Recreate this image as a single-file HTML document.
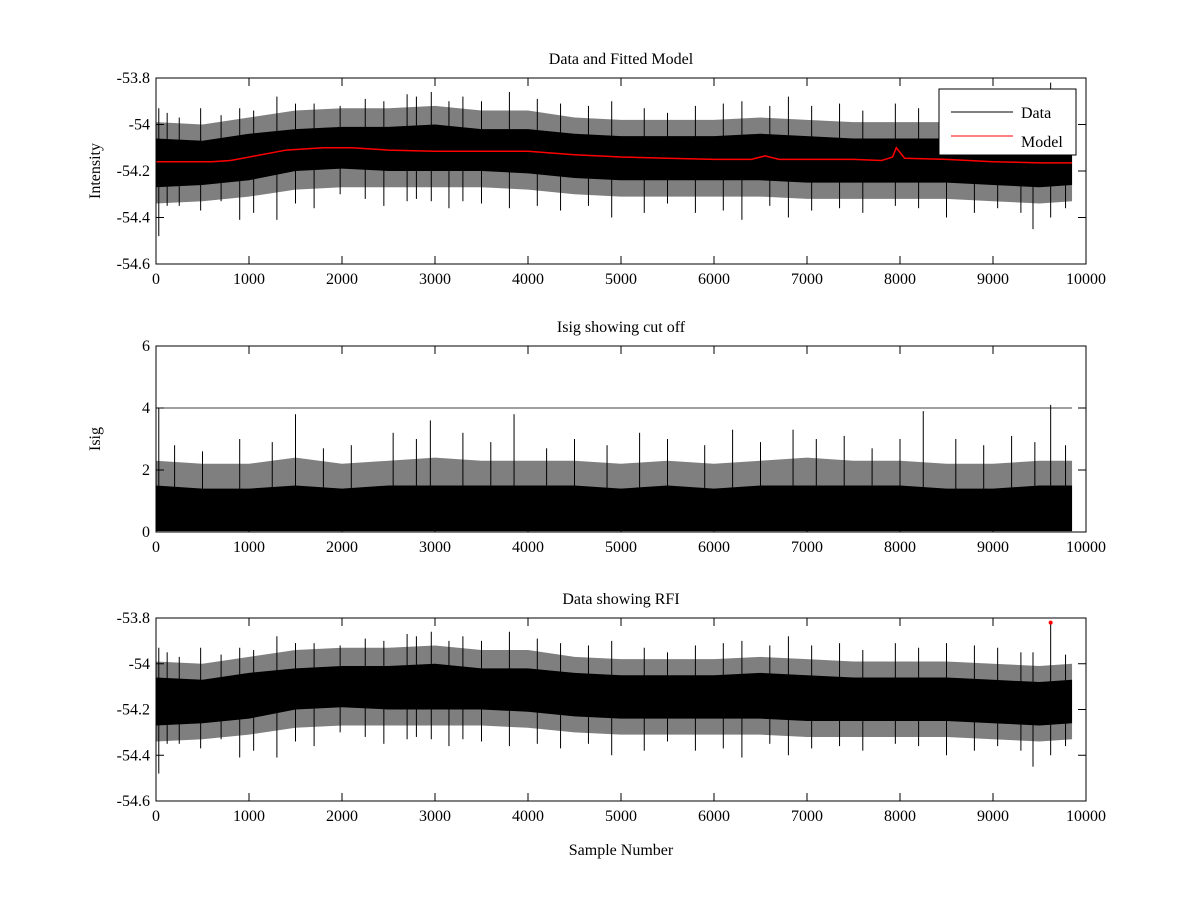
<!DOCTYPE html>
<html><head><meta charset="utf-8"><style>
body{margin:0;background:#fff}
svg{display:block;font-family:"Liberation Serif",serif}
text{font-size:16px;fill:#000}
</style></head><body>
<svg id="fig" width="1200" height="900"></svg>
<script>
const envX=[0,500,1000,1500,2000,2500,3000,3500,4000,4500,5000,5500,6000,6500,7000,7500,8000,8500,9000,9500,9850];
const coreHi=[-54.06,-54.07,-54.04,-54.02,-54.01,-54.01,-54.00,-54.02,-54.02,-54.04,-54.05,-54.05,-54.05,-54.04,-54.05,-54.06,-54.06,-54.06,-54.07,-54.08,-54.07];
const coreLo=[-54.27,-54.26,-54.24,-54.20,-54.19,-54.20,-54.20,-54.20,-54.21,-54.23,-54.24,-54.24,-54.24,-54.24,-54.25,-54.25,-54.25,-54.25,-54.26,-54.27,-54.26];
const fringeHi=[-53.99,-54.00,-53.97,-53.94,-53.93,-53.93,-53.92,-53.94,-53.94,-53.97,-53.98,-53.98,-53.98,-53.97,-53.98,-53.99,-53.99,-53.99,-54.00,-54.01,-54.00];
const fringeLo=[-54.34,-54.33,-54.31,-54.28,-54.27,-54.27,-54.27,-54.27,-54.28,-54.30,-54.31,-54.31,-54.31,-54.31,-54.32,-54.32,-54.32,-54.32,-54.33,-54.34,-54.33];
const modelX=[0,600,800,1000,1400,1800,2100,2500,3000,3500,4000,4500,5000,5500,6000,6400,6550,6700,7000,7500,7800,7920,7960,8050,8500,9000,9500,9850];
const modelY=[-54.16,-54.16,-54.155,-54.14,-54.11,-54.10,-54.10,-54.11,-54.115,-54.115,-54.115,-54.13,-54.14,-54.145,-54.15,-54.15,-54.135,-54.15,-54.15,-54.15,-54.155,-54.14,-54.10,-54.145,-54.15,-54.16,-54.165,-54.165];
const spikeX=[30,120,250,480,700,900,1050,1300,1500,1700,1980,2250,2450,2700,2800,2960,3150,3300,3500,3800,4100,4350,4650,4900,5250,5500,5800,6100,6300,6600,6800,7050,7350,7600,7950,8200,8500,8800,9050,9300,9430,9620,9780];
const spikeHi=[-53.93,-53.95,-53.97,-53.93,-53.96,-53.93,-53.94,-53.88,-53.91,-53.91,-53.92,-53.89,-53.90,-53.87,-53.88,-53.86,-53.90,-53.88,-53.90,-53.86,-53.89,-53.91,-53.92,-53.90,-53.93,-53.95,-53.92,-53.91,-53.90,-53.92,-53.88,-53.92,-53.91,-53.94,-53.91,-53.93,-53.91,-53.92,-53.93,-53.95,-53.95,-53.82,-53.96];
const spikeLo=[-54.48,-54.35,-54.35,-54.37,-54.33,-54.41,-54.38,-54.41,-54.34,-54.36,-54.30,-54.32,-54.35,-54.33,-54.32,-54.33,-54.36,-54.33,-54.34,-54.36,-54.35,-54.37,-54.35,-54.40,-54.38,-54.34,-54.38,-54.37,-54.41,-54.35,-54.40,-54.37,-54.36,-54.38,-54.35,-54.36,-54.40,-54.38,-54.36,-54.38,-54.45,-54.40,-54.36];
const isigHi=[1.5,1.4,1.4,1.5,1.4,1.5,1.5,1.5,1.5,1.5,1.4,1.5,1.4,1.5,1.5,1.5,1.5,1.4,1.4,1.5,1.5];
const isigFringe=[2.3,2.2,2.2,2.4,2.2,2.3,2.4,2.3,2.3,2.3,2.2,2.3,2.2,2.3,2.4,2.3,2.3,2.2,2.2,2.3,2.3];
const isigSpikeX=[30,200,500,900,1250,1500,1800,2100,2550,2800,2950,3300,3600,3850,4200,4500,4850,5200,5500,5900,6200,6500,6850,7100,7400,7700,8000,8250,8600,8900,9200,9450,9620,9780];
const isigSpikeV=[4.0,2.8,2.6,3.0,2.9,3.8,2.7,2.8,3.2,3.0,3.6,3.2,2.9,3.8,2.7,3.0,2.8,3.2,3.0,2.8,3.3,2.9,3.3,3.0,3.1,2.7,3.0,3.9,3.0,2.8,3.1,2.9,4.1,2.8];
const cutoff=4;
const rfiX=[9620], rfiY=[-53.82];
const xTicks=[0,1000,2000,3000,4000,5000,6000,7000,8000,9000,10000];

const NS="http://www.w3.org/2000/svg", svg=document.getElementById('fig');
function el(t,a,p){const e=document.createElementNS(NS,t);for(const k in a)e.setAttribute(k,a[k]);(p||svg).appendChild(e);return e;}
const X0=156,X1=1086;
const sx=v=>X0+(v/10000)*(X1-X0);
function band(hi,lo,sy){return envX.map((x,i)=>sx(x)+','+sy(hi[i])).concat(envX.slice().reverse().map((x,j)=>{const i=envX.length-1-j;return sx(x)+','+sy(lo[i]);})).join(' ');}
function panel(name,top,bot,ymin,ymax,yticks,title,ylabel,xlabel){
  const g=el('g',{});
  
  
  const sy=v=>bot-(v-ymin)/(ymax-ymin)*(bot-top);
  return {g,sy,finish(){
    el('rect',{x:X0,y:top,width:X1-X0,height:bot-top,fill:'none',stroke:'#000','stroke-width':1},g);
    xTicks.forEach(t=>{const x=sx(t);
      el('line',{x1:x,y1:bot,x2:x,y2:bot-8,stroke:'#000'},g);
      el('line',{x1:x,y1:top,x2:x,y2:top+8,stroke:'#000'},g);
      const tx=el('text',{x:x,y:bot+20,'text-anchor':'middle'},g);tx.textContent=t;
      
      });
    yticks.forEach(t=>{const y=sy(t);
      el('line',{x1:X0,y1:y,x2:X0+8,y2:y,stroke:'#000'},g);
      el('line',{x1:X1,y1:y,x2:X1-8,y2:y,stroke:'#000'},g);
      const tx=el('text',{x:X0-6,y:y+5,'text-anchor':'end'},g);tx.textContent=t;
      
      });
    const tt=el('text',{x:(X0+X1)/2,y:top-14,'text-anchor':'middle'},g);tt.textContent=title;
    
    
    if(ylabel){const yl=el('text',{x:0,y:0,'text-anchor':'middle',transform:`translate(100,${(top+bot)/2}) rotate(-90)`},g);yl.textContent=ylabel;
      
      }
    if(xlabel){const xl=el('text',{x:(X0+X1)/2,y:bot+54,'text-anchor':'middle'},g);xl.textContent=xlabel;
      
      }
  }};
}
function drawIntensity(p,name){
  const fr=el('polygon',{points:band(fringeHi,fringeLo,p.sy),fill:'#000','fill-opacity':0.5},p.g);
  
  
  const poly=el('polygon',{points:band(coreHi,coreLo,p.sy),fill:'#000'},p.g);
  
  
  spikeX.forEach((x,i)=>{const l=el('line',{x1:sx(x),x2:sx(x),y1:p.sy(spikeHi[i]),y2:p.sy(spikeLo[i]),stroke:'#000','stroke-width':1},p.g);
    
    });
}
const p1=panel('data-model-panel',78,264,-54.6,-53.8,[-53.8,-54,-54.2,-54.4,-54.6],'Data and Fitted Model','Intensity');
drawIntensity(p1,'data-series');
const ml=el('polyline',{points:modelX.map((x,i)=>sx(x)+','+p1.sy(modelY[i])).join(' '),fill:'none',stroke:'#f00','stroke-width':1.5},p1.g);


p1.finish();
const lg=el('g',{},p1.g);


el('rect',{x:939,y:89,width:137,height:66,fill:'#fff',stroke:'#000'},lg);
el('line',{x1:951,y1:112,x2:1013,y2:112,stroke:'#000'},lg);
el('line',{x1:951,y1:136,x2:1013,y2:136,stroke:'#f00'},lg);
const l1=el('text',{x:1021,y:118},lg);l1.textContent='Data';


const l2=el('text',{x:1021,y:147},lg);l2.textContent='Model';


const p2=panel('isig-panel',346,532,0,6,[0,2,4,6],'Isig showing cut off','Isig');
const zeros=envX.map(()=>0.03);
const ifr=el('polygon',{points:band(isigFringe,zeros,p2.sy),fill:'#000','fill-opacity':0.5},p2.g);


const ip=el('polygon',{points:band(isigHi,zeros,p2.sy),fill:'#000'},p2.g);


isigSpikeX.forEach((x,i)=>{const l=el('line',{x1:sx(x),x2:sx(x),y1:p2.sy(isigSpikeV[i]),y2:p2.sy(0.3),stroke:'#000'},p2.g);
  
  });
const cl=el('line',{x1:sx(0),x2:sx(9850),y1:p2.sy(cutoff),y2:p2.sy(cutoff),stroke:'#000','stroke-width':0.8},p2.g);


p2.finish();
const p3=panel('rfi-panel',618,801,-54.6,-53.8,[-53.8,-54,-54.2,-54.4,-54.6],'Data showing RFI','','Sample Number');
drawIntensity(p3,'rfi-data-series');
rfiX.forEach((x,i)=>{const c=el('circle',{cx:sx(x),cy:p3.sy(rfiY[i]),r:2,fill:'#f00'},p3.g);
  
  });
p3.finish();
</script>
</body></html>
